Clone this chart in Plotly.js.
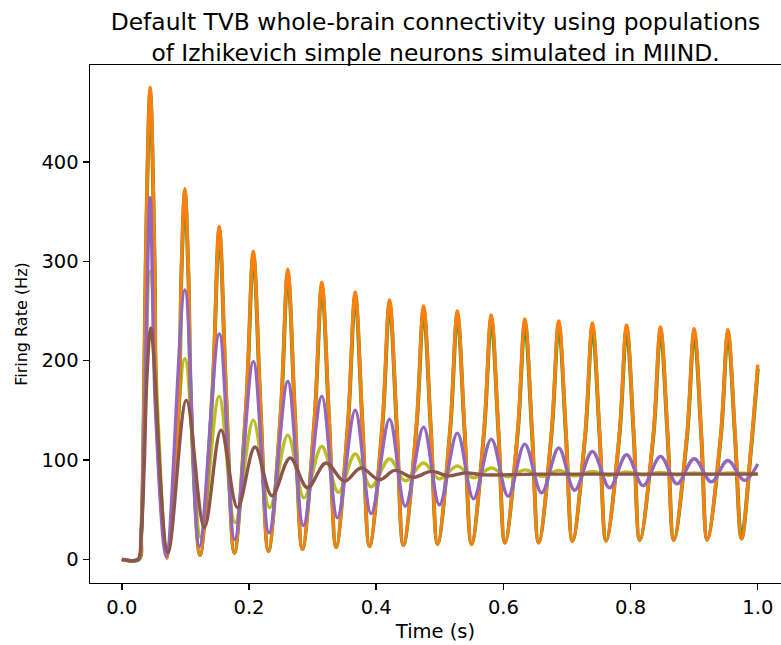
<!DOCTYPE html>
<html>
<head>
<meta charset="utf-8">
<script src="https://cdn.plot.ly/plotly-3.0.1.min.js"></script>
<style>html,body{margin:0;padding:0;background:#fff;}#chart{width:781px;height:645px;}</style>
</head>
<body>
<div id="chart"></div>
<script>
// Orange (and green, nearly identical) population: large oscillations
var orangeT = [0, 0.027, 0.0305, 0.0346, 0.0376, 0.0446, 0.0516, 0.0546, 0.071,
  0.0892, 0.0937, 0.0992, 0.1047, 0.1092, 0.123,
  0.1425, 0.1532, 0.1639, 0.177,
  0.1958, 0.2068, 0.2178, 0.2305,
  0.2500, 0.2610, 0.2720, 0.2840,
  0.3033, 0.3145, 0.3257, 0.3370,
  0.3558, 0.3670, 0.3782, 0.3895,
  0.4098, 0.4210, 0.4322, 0.4428,
  0.4633, 0.4745, 0.4857, 0.4966,
  0.5164, 0.5276, 0.5388, 0.5500,
  0.5697, 0.5809, 0.5921, 0.6025,
  0.6226, 0.6338, 0.6450, 0.6555,
  0.6758, 0.6870, 0.6982, 0.7087,
  0.7288, 0.7400, 0.7512, 0.7615,
  0.7825, 0.7937, 0.8049, 0.8145,
  0.8358, 0.8470, 0.8582, 0.8680,
  0.8888, 0.9000, 0.9112, 0.9205,
  0.9418, 0.9530, 0.9642, 0.9745,
  0.9890, 1.0];
var orangeV = [0, 0, 25, 150, 300, 475, 300, 150, 1,
  150, 290, 373, 290, 150, 4,
  170, 335, 170, 6,
  160, 310, 160, 8,
  150, 292, 150, 10,
  145, 279, 145, 12,
  140, 269, 140, 13,
  137, 261, 137, 14,
  135, 255, 135, 15,
  133, 250, 133, 15,
  131, 246, 131, 16.5,
  130, 242, 130, 16.5,
  129, 240, 129, 18,
  128, 238, 128, 18.5,
  127, 236, 127, 19,
  126, 234, 126, 19,
  126, 232, 126, 19.5,
  125, 231, 126, 20.5,
  110, 196];
var greenV = [0, 0, 24, 148, 296, 470, 296, 148, 1.5,
  148, 286, 369, 286, 148, 4.5,
  168, 331, 168, 6.5,
  158, 306, 158, 8.5,
  148, 288, 148, 10.5,
  143, 275, 143, 12.5,
  138, 265, 138, 13.5,
  135, 257, 135, 14.5,
  133, 251, 133, 15.5,
  131, 246, 131, 15.5,
  129, 242, 129, 17,
  128, 238, 128, 17,
  127, 236, 127, 18.5,
  126, 234, 126, 19,
  125, 232, 125, 19.5,
  124, 230, 124, 19.5,
  124, 228, 124, 20,
  123, 227, 124, 21,
  108, 192];

// Olive population: damped oscillation
var oliveT = [0, 0.026, 0.030, 0.036, 0.0446, 0.0715, 0.0992, 0.1244, 0.153, 0.178, 0.2068, 0.2325,
  0.261, 0.2866, 0.3145, 0.3407, 0.367, 0.392, 0.421, 0.4457, 0.4745, 0.4994,
  0.5276, 0.553, 0.581, 0.607, 0.634, 0.66, 0.687, 0.712, 0.740, 0.767,
  0.7937, 0.82, 0.847, 0.873, 0.900, 0.927, 0.953, 1.0];
var oliveV = [0, 0, 20, 140, 290, 7, 202, 22, 164, 37, 140, 52,
  125, 62, 113.6, 67.5, 106, 73, 101, 79, 97, 81,
  94, 82, 92, 83, 90, 83.5, 89.5, 84, 88.5, 84.5,
  88, 85, 87.5, 85, 87, 85.5, 87, 86];

// Purple population
var purpleT = [0, 0.026, 0.030, 0.036, 0.0446, 0.053, 0.070, 0.0992, 0.122, 0.1533, 0.1775, 0.2068, 0.2315,
  0.261, 0.2855, 0.3145, 0.339, 0.367, 0.392, 0.421, 0.4457, 0.4745, 0.4994,
  0.5276, 0.553, 0.581, 0.6074, 0.6336, 0.660, 0.687, 0.712, 0.740, 0.767,
  0.7937, 0.8197, 0.847, 0.873, 0.900, 0.927, 0.9528, 0.979, 1.0];
var purpleV = [0, 0, 20, 150, 364, 150, 3, 271, 13, 227, 20, 199, 26.7,
  179, 34, 164, 41.8, 150, 46, 141, 53.5, 133, 55,
  127, 61, 121, 63.5, 116, 67, 112, 69.5, 108.6, 72,
  105.3, 74.2, 103.6, 76, 101.3, 78, 99.5, 79.5, 96];

// Brown population: strongly damped, settles near 86 Hz
var brownT = [0, 0.0255, 0.030, 0.035, 0.040, 0.0457, 0.0725, 0.1015, 0.1297, 0.156, 0.182,
  0.2094, 0.236, 0.2646, 0.292, 0.321, 0.350, 0.376, 0.405, 0.429, 0.458,
  0.4866, 0.514, 0.540, 0.570, 0.650, 1.0];
var brownV = [0, 0, 20, 90, 190, 233, 7, 160, 32, 130, 52,
  113, 64, 102, 72, 97, 78.5, 92, 80, 89.5, 82.5,
  88.5, 84, 87, 85, 85.8, 85.8];

var font = "'DejaVu Sans', Verdana, sans-serif";
function tr(x, y, color, w) {
  return {x: x, y: y, type: 'scatter', mode: 'lines',
    line: {color: color, width: w, shape: 'spline', smoothing: 1},
    hoverinfo: 'skip', showlegend: false};
}
var data = [
  tr(oliveT, oliveV, '#bcbd22', 3.4),
  tr(orangeT, greenV, '#2ca02c', 4.0),
  tr(orangeT, orangeV, '#ff7f0e', 3.4),
  tr(purpleT, purpleV, '#9467bd', 3.4),
  tr(brownT, brownV, '#8c564b', 3.4)
];
var layout = {
  width: 781, height: 645,
  margin: {l: 90, r: 0, t: 65, b: 62, pad: 0},
  paper_bgcolor: '#fff', plot_bgcolor: '#fff',
  font: {family: font, color: '#000', size: 19},
  title: {text: 'Default TVB whole-brain connectivity using populations<br>of Izhikevich simple neurons simulated in MIIND.',
    font: {family: font, size: 23.4, color: '#000'},
    x: 0.5, xref: 'paper', xanchor: 'center', y: 0.953, yref: 'container', yanchor: 'top'},
  xaxis: {range: [-0.05, 1.0365], tickvals: [0, 0.2, 0.4, 0.6, 0.8, 1.0], ticktext: ['0.0', '0.2', '0.4', '0.6', '0.8', '1.0'],
    ticks: 'outside', ticklen: 6, tickwidth: 1.4, tickcolor: '#000',
    showline: true, linecolor: '#000', linewidth: 1.4, mirror: true,
    showgrid: false, zeroline: false,
    tickfont: {family: font, size: 19.5, color: '#000'},
    title: {text: 'Time (s)', font: {family: font, size: 19.5, color: '#000'}, standoff: 6}},
  yaxis: {range: [-23.8, 497.5], tickvals: [0, 100, 200, 300, 400],
    ticks: 'outside', ticklen: 6, tickwidth: 1.4, tickcolor: '#000',
    showline: true, linecolor: '#000', linewidth: 1.4, mirror: false,
    showgrid: false, zeroline: false,
    tickfont: {family: font, size: 19.5, color: '#000'},
    title: {text: '\u00a0\u00a0\u00a0\u00a0\u00a0\u00a0Firing Rate (Hz)', font: {family: font, size: 16, color: '#000'}, standoff: 10}}
};
Plotly.newPlot('chart', data, layout, {displayModeBar: false, staticPlot: true});
</script>
</body>
</html>
